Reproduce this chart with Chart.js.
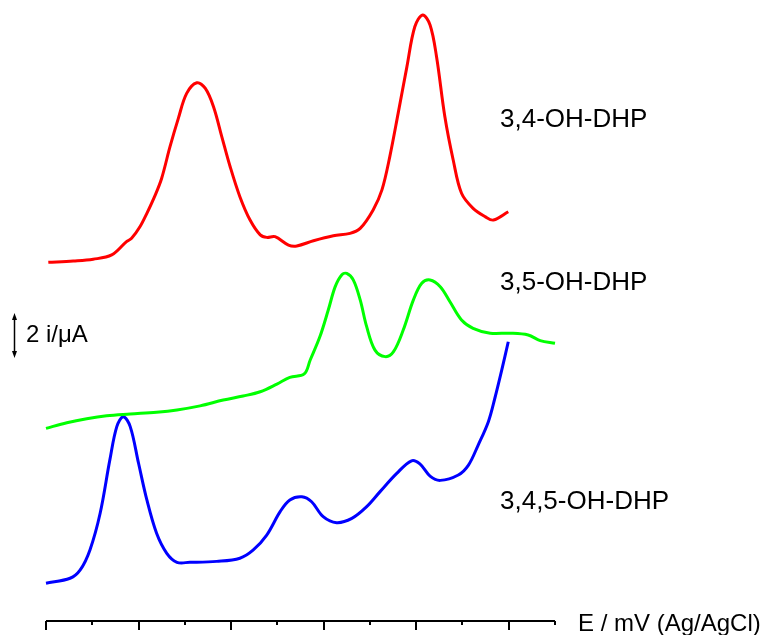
<!DOCTYPE html>
<html>
<head>
<meta charset="utf-8">
<script src="https://cdn.jsdelivr.net/npm/chart.js@4.4.1/dist/chart.umd.min.js"></script>
<style>
  html, body { margin: 0; padding: 0; background: #ffffff; }
  #wrap { width: 767px; height: 635px; }
</style>
</head>
<body>
<div id="wrap"><canvas id="dpv" width="767" height="635"></canvas></div>
<script>
// Differential pulse voltammograms of three hydroxylated DHP derivatives.
// Potentials in mV (Ag/AgCl); currents in µA, each trace shifted vertically.

const labels = ['3,4-OH-DHP', '3,5-OH-DHP', '3,4,5-OH-DHP'];

const potential34 = [5, 59, 102, 142, 174, 185, 203, 218, 236, 250, 268, 286, 304, 326, 344, 362, 380, 398, 419, 441, 463, 477, 495, 524, 542, 578, 621, 657, 679, 707, 726, 743, 761, 780, 797, 814, 830, 844, 862, 880, 898, 923, 949, 967, 999];
const current34 = [15.94, 16.00, 16.08, 16.27, 16.86, 17.01, 17.52, 18.12, 18.93, 19.68, 21.08, 22.34, 23.45, 23.92, 23.68, 22.86, 21.52, 20.19, 18.86, 17.82, 17.16, 17.05, 17.08, 16.71, 16.67, 16.90, 17.12, 17.23, 17.45, 18.27, 19.16, 20.64, 22.56, 24.64, 26.41, 26.93, 26.49, 25.08, 22.41, 20.49, 19.01, 18.34, 17.97, 17.82, 18.19];

const potential35 = [0, 45, 88, 131, 182, 239, 283, 333, 383, 426, 463, 499, 527, 558, 571, 592, 610, 625, 639, 650, 664, 679, 693, 711, 733, 751, 772, 794, 812, 830, 852, 873, 898, 923, 960, 1003, 1042, 1068, 1100];
const current35 = [8.56, 8.81, 8.99, 9.12, 9.20, 9.28, 9.38, 9.56, 9.82, 10.00, 10.19, 10.53, 10.83, 10.98, 11.60, 12.64, 13.82, 14.86, 15.38, 15.45, 15.16, 14.27, 13.08, 12.04, 11.75, 11.97, 12.93, 14.27, 15.01, 15.16, 14.86, 14.19, 13.38, 13.01, 12.79, 12.79, 12.71, 12.46, 12.34];

const potential345 = [0, 52, 74, 95, 117, 138, 153, 167, 182, 200, 218, 239, 261, 283, 311, 369, 419, 448, 477, 506, 527, 553, 574, 599, 628, 661, 693, 722, 758, 790, 808, 830, 852, 891, 913, 934, 956, 970, 985, 999];
const current345 = [1.68, 1.90, 2.27, 3.16, 4.79, 7.16, 8.64, 9.08, 8.64, 7.01, 5.38, 3.90, 3.01, 2.61, 2.61, 2.65, 2.79, 3.16, 3.82, 4.86, 5.38, 5.52, 5.30, 4.64, 4.37, 4.56, 5.08, 5.75, 6.56, 7.12, 6.98, 6.44, 6.25, 6.49, 6.93, 7.82, 8.86, 9.90, 11.16, 12.41];

const majorTicks = [0, 200, 400, 600, 800, 1000];
const minorTicks = [100, 300, 500, 700, 900, 1100];

const xLabel = 'E / mV (Ag/AgCl)';
const scaleBarText = '2 i/\u03bcA';
const scaleBarFrom = 11.69;   // µA, lower end of the scale bar
const scaleBarSpan = 2;       // µA

const colors = ['#ff0000', '#00ff00', '#0000ff'];

function pairs(xs, ys) {
  return xs.map((x, i) => ({ x: x, y: ys[i] }));
}

const LABEL_FONT = "26px 'Liberation Sans', Arial, sans-serif";
const AXIS_FONT = "24px 'Liberation Sans', Arial, sans-serif";

const decorations = {
  id: 'decorations',
  afterDraw(chart) {
    const ctx = chart.ctx;
    const xs = chart.scales.x;
    const ys = chart.scales.y;
    const base = chart.chartArea.bottom;
    ctx.save();
    ctx.strokeStyle = '#000000';
    ctx.fillStyle = '#000000';

    // potential axis
    ctx.lineWidth = 2;
    ctx.beginPath();
    ctx.moveTo(xs.getPixelForValue(0), base);
    ctx.lineTo(xs.getPixelForValue(1100), base);
    ctx.stroke();
    majorTicks.forEach(v => {
      const px = Math.round(xs.getPixelForValue(v));
      ctx.beginPath();
      ctx.moveTo(px, base);
      ctx.lineTo(px, base + 9);
      ctx.stroke();
    });
    minorTicks.forEach(v => {
      const px = Math.round(xs.getPixelForValue(v));
      ctx.beginPath();
      ctx.moveTo(px, base);
      ctx.lineTo(px, base + 4);
      ctx.stroke();
    });

    ctx.textBaseline = 'middle';
    ctx.textAlign = 'left';
    ctx.font = AXIS_FONT;
    ctx.fillText(xLabel, 578, base + 3);

    // trace names
    ctx.font = LABEL_FONT;
    ctx.fillText(labels[0], 500, 120);
    ctx.fillText(labels[1], 500, 283);
    ctx.fillText(labels[2], 500, 502);

    // current scale bar
    const top = ys.getPixelForValue(scaleBarFrom + scaleBarSpan);
    const bot = ys.getPixelForValue(scaleBarFrom);
    const bx = 14.5;
    ctx.lineWidth = 1.5;
    ctx.beginPath();
    ctx.moveTo(bx, top + 4);
    ctx.lineTo(bx, bot - 4);
    ctx.stroke();
    ctx.beginPath();
    ctx.moveTo(bx, top);
    ctx.lineTo(bx - 2.5, top + 7);
    ctx.lineTo(bx + 2.5, top + 7);
    ctx.closePath();
    ctx.fill();
    ctx.beginPath();
    ctx.moveTo(bx, bot);
    ctx.lineTo(bx - 2.5, bot - 7);
    ctx.lineTo(bx + 2.5, bot - 7);
    ctx.closePath();
    ctx.fill();
    ctx.font = AXIS_FONT;
    ctx.fillText(scaleBarText, 26, (top + bot) / 2);

    ctx.restore();
  }
};

function trace(i, xs, ys) {
  return {
    label: labels[i],
    data: pairs(xs, ys),
    borderColor: colors[i],
    backgroundColor: colors[i],
    borderWidth: 3,
    pointRadius: 0,
    tension: 0.35,
    fill: false,
    clip: false
  };
}

new Chart(document.getElementById('dpv'), {
  type: 'line',
  data: {
    datasets: [
      trace(0, potential34, current34),
      trace(1, potential35, current35),
      trace(2, potential345, current345)
    ]
  },
  options: {
    responsive: false,
    animation: false,
    devicePixelRatio: 1,
    layout: { padding: { left: 46, right: 212, top: 0, bottom: 14 } },
    plugins: {
      legend: { display: false },
      tooltip: { enabled: false }
    },
    scales: {
      x: { type: 'linear', min: 0, max: 1100, display: false },
      y: { type: 'linear', min: 0, max: 27.6, display: false }
    }
  },
  plugins: [decorations]
});
</script>
</body>
</html>
